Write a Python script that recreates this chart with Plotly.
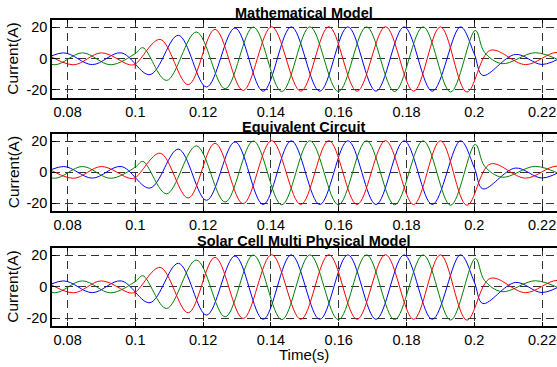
import plotly.graph_objects as go

# ---- data (extrema of each phase current) ----
blue_t = [0.0705, 0.0788, 0.0873, 0.0958, 0.1043, 0.1127, 0.1210, 0.1294, 0.1377,
          0.1460, 0.1544, 0.1627, 0.1710, 0.1793, 0.1876, 0.1959, 0.2000, 0.2025,
          0.2121, 0.2200, 0.2270]
blue_i = [-3.8, 3.7, -3.8, 3.7, -10.2, 14.9, -18.1, 19.6, -20.8,
          20.3, -20.8, 20.3, -20.8, 20.3, -20.8, 20.3, 3.0, -10.7,
          2.7, -3.7, 2.5]

green_t = [0.0678, 0.0761, 0.0844, 0.0927, 0.1000, 0.1022, 0.1092, 0.1180, 0.1265,
           0.1348, 0.1432, 0.1515, 0.1599, 0.1682, 0.1765, 0.1849, 0.1930, 0.2003,
           0.2030, 0.2082, 0.2180, 0.2260]
green_i = [3.7, -3.9, 3.7, -3.9, 3.3, 7.0, -13.9, 17.0, -19.2,
           20.2, -21.0, 20.3, -21.0, 20.3, -21.0, 20.3, -21.3, 18.0,
           4.0, -3.2, 3.8, -2.0]

red_t = [0.0733, 0.0817, 0.0900, 0.0983, 0.1000, 0.1073, 0.1156, 0.1235, 0.1318,
         0.1402, 0.1488, 0.1571, 0.1654, 0.1738, 0.1821, 0.1900, 0.1978, 0.2047,
         0.2151, 0.2245, 0.2320]
red_i = [3.7, -3.9, 3.7, -3.9, -3.4, 12.3, -16.6, 18.7, -20.3,
         20.4, -20.8, 20.4, -20.8, 20.4, -20.8, 20.3, -21.3, 5.3,
         -3.8, 4.0, -3.0]

# switching spikes at t = 0.1
spike_t = [0.1, 0.1]
red_spike = [-3.4, -6.4]
green_spike = [3.3, 6.5]

panel_titles = ["Mathematical Model", "Equivalent Circuit", "Solar Cell Multi Physical Model"]
x_ticks = [0.08, 0.10, 0.12, 0.14, 0.16, 0.18, 0.20, 0.22]
x_tick_text = ["0.08", "0.1", "0.12", "0.14", "0.16", "0.18", "0.2", "0.22"]
y_ticks = [-20, 0, 20]
y_tick_text = ["-20", "0", "20"]

W, H = 557, 367
FONT = "Liberation Sans, Arial, sans-serif"

# panel geometry in pixels (top, bottom)
panels_px = [(19.5, 97.8), (133.5, 211.0), (247.5, 325.9)]
title_y_px = [12.5, 126.5, 241.0]
left_px = 52

fig = go.Figure()

for k in range(3):
    xa = "x" if k == 0 else f"x{k+1}"
    ya = "y" if k == 0 else f"y{k+1}"
    for t, v, c in [(blue_t, blue_i, "#0000ff"), (green_t, green_i, "#008000"), (red_t, red_i, "#ff0000")]:
        fig.add_trace(go.Scatter(x=t, y=v, mode="lines", xaxis=xa, yaxis=ya,
                                 line=dict(color=c, width=1, shape="spline", smoothing=1.0),
                                 showlegend=False, hoverinfo="skip"))
    for v, c in [(green_spike, "#008000"), (red_spike, "#ff0000")]:
        fig.add_trace(go.Scatter(x=spike_t, y=v, mode="lines", xaxis=xa, yaxis=ya,
                                 line=dict(color=c, width=1.3),
                                 showlegend=False, hoverinfo="skip"))

layout = dict(width=W, height=H, margin=dict(l=0, r=0, t=0, b=0),
              paper_bgcolor="white", plot_bgcolor="white",
              font=dict(family=FONT, size=14.5, color="black"))

annotations = []
for k in range(3):
    top, bot = panels_px[k]
    xkey = "xaxis" if k == 0 else f"xaxis{k+1}"
    ykey = "yaxis" if k == 0 else f"yaxis{k+1}"
    ya = "y" if k == 0 else f"y{k+1}"
    layout[xkey] = dict(domain=[left_px / W, 1], range=[0.0754, 0.2244],
                        anchor=ya, tickvals=x_ticks, ticktext=x_tick_text,
                        ticks="inside", ticklen=4, tickcolor="black",
                        showline=True, linecolor="black", linewidth=1.5, mirror="ticks",
                        showgrid=True, gridcolor="#333333", gridwidth=1, griddash="8px,5px",
                        zeroline=False, tickfont=dict(size=14.5))
    layout[ykey] = dict(domain=[1 - bot / H, 1 - top / H], range=[-25, 25],
                        anchor="x" if k == 0 else f"x{k+1}",
                        tickvals=y_ticks, ticktext=y_tick_text,
                        ticks="inside", ticklen=4, tickcolor="black",
                        showline=True, linecolor="black", linewidth=1.5, mirror=False,
                        showgrid=True, gridcolor="#333333", gridwidth=1, griddash="8px,5px",
                        zeroline=False, tickfont=dict(size=14.5))
    annotations.append(dict(text="<b>" + panel_titles[k] + "</b>", x=303.5 / W, y=1 - title_y_px[k] / H,
                            xref="paper", yref="paper", showarrow=False, borderpad=0,
                            xanchor="center", yanchor="middle", font=dict(size=14.5)))
    annotations.append(dict(text="Current(A)", x=13 / W, y=1 - (top + bot) / 2 / H,
                            xref="paper", yref="paper", showarrow=False, textangle=-90,
                            xanchor="center", yanchor="middle", font=dict(size=15.5)))

annotations.append(dict(text="Time(s)", x=304 / W, y=1 - 354 / H, xref="paper", yref="paper",
                        showarrow=False, xanchor="center", yanchor="middle", font=dict(size=15)))
layout["annotations"] = annotations

fig.update_layout(**layout)
fig.write_html("out.html")
